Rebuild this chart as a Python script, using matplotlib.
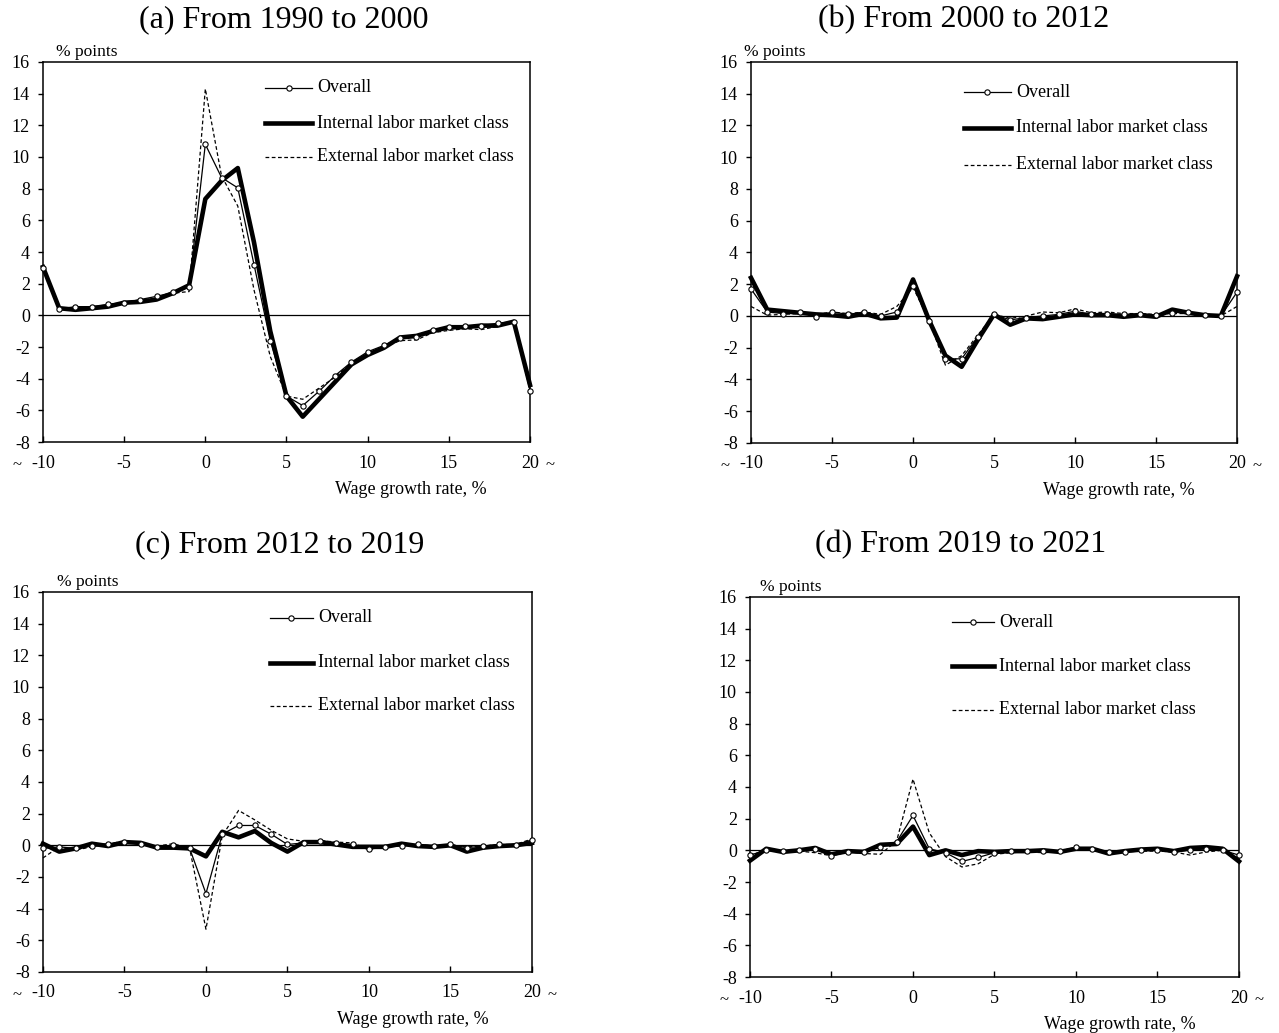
import matplotlib.pyplot as plt

plt.rcParams['font.family'] = ['Liberation Serif', 'DejaVu Serif']
plt.rcParams['axes.unicode_minus'] = False

# Wage growth rate bins, %
wage_growth = list(range(-10, 21))

# (a) From 1990 to 2000, % points
overall_a = [3.0, 0.4, 0.55, 0.55, 0.7, 0.8, 1.0, 1.2, 1.45, 1.8,
             10.8, 8.7, 8.05, 3.2, -1.6, -5.1, -5.7, -4.8, -3.8, -2.95,
             -2.3, -1.9, -1.45, -1.35, -0.9, -0.75, -0.7, -0.65, -0.5, -0.4, -4.75]
internal_a = [3.05, 0.45, 0.35, 0.45, 0.55, 0.8, 0.85, 1.0, 1.4, 1.9,
              7.35, 8.5, 9.3, 4.6, -1.0, -5.1, -6.4, -5.3, -4.2, -3.1,
              -2.5, -2.05, -1.4, -1.3, -1.0, -0.75, -0.75, -0.65, -0.65, -0.4, -4.4]
external_a = [3.0, 0.4, 0.5, 0.5, 0.6, 0.75, 1.0, 1.05, 1.4, 1.5,
              14.3, 8.8, 6.9, 1.6, -2.6, -5.1, -5.3, -4.6, -3.9, -3.0,
              -2.4, -2.0, -1.6, -1.55, -1.1, -0.95, -0.85, -0.9, -0.7, -0.45, -4.6]

# (b) From 2000 to 2012
overall_b = [1.7, 0.25, 0.15, 0.25, -0.05, 0.25, 0.1, 0.25, 0.0, 0.25,
             1.9, -0.3, -2.7, -2.7, -1.3, 0.1, -0.25, -0.1, 0.0, 0.1,
             0.3, 0.1, 0.15, 0.1, 0.15, 0.05, 0.2, 0.25, 0.05, 0.0, 1.5]
internal_b = [2.4, 0.4, 0.3, 0.2, 0.1, 0.05, -0.05, 0.15, -0.15, -0.1,
              2.3, -0.3, -2.5, -3.2, -1.5, 0.1, -0.55, -0.15, -0.2, -0.05,
              0.1, 0.05, 0.05, -0.05, 0.05, -0.05, 0.4, 0.2, 0.05, 0.0, 2.5]
external_b = [0.6, 0.05, 0.1, 0.15, 0.1, 0.25, 0.15, 0.25, 0.1, 0.6,
              1.8, -0.3, -3.1, -2.5, -1.2, 0.1, -0.15, 0.0, 0.25, 0.2,
              0.45, 0.2, 0.25, 0.15, 0.15, 0.1, 0.15, 0.15, 0.05, 0.0, 0.6]

# (c) From 2012 to 2019
overall_c = [-0.2, -0.1, -0.2, -0.05, 0.1, 0.2, 0.05, -0.1, 0.0, -0.2,
             -3.05, 0.7, 1.25, 1.25, 0.7, 0.05, 0.15, 0.3, 0.15, 0.05,
             -0.25, -0.1, -0.05, 0.05, -0.05, 0.05, -0.15, -0.05, 0.05, 0.0, 0.35]
internal_c = [0.1, -0.4, -0.2, 0.1, -0.05, 0.2, 0.15, -0.15, -0.15, -0.2,
              -0.7, 0.85, 0.5, 0.9, 0.15, -0.4, 0.2, 0.2, 0.05, -0.1,
              -0.1, -0.1, 0.1, -0.05, -0.1, 0.0, -0.4, -0.15, -0.05, 0.0, 0.15]
external_c = [-0.8, -0.1, -0.3, -0.1, 0.1, 0.25, 0.1, -0.05, 0.1, -0.2,
              -5.3, 0.6, 2.2, 1.6, 0.95, 0.4, 0.25, 0.3, 0.2, 0.15,
              -0.3, -0.05, 0.05, 0.05, -0.05, -0.05, -0.1, -0.05, 0.05, 0.05, 0.4]

# (d) From 2019 to 2021
overall_d = [-0.3, 0.0, -0.05, 0.0, 0.1, -0.35, -0.1, -0.1, 0.2, 0.55,
             2.2, 0.1, -0.15, -0.7, -0.45, -0.15, -0.05, -0.05, -0.05, -0.05,
             0.2, 0.1, -0.1, -0.1, 0.0, 0.0, -0.1, 0.0, 0.1, 0.0, -0.3]
internal_d = [-0.65, 0.1, -0.1, 0.0, 0.15, -0.25, -0.05, -0.1, 0.35, 0.4,
              1.5, -0.3, 0.0, -0.3, -0.05, -0.1, -0.05, -0.05, 0.0, -0.1,
              0.1, 0.1, -0.2, -0.05, 0.05, 0.1, -0.05, 0.15, 0.2, 0.1, -0.7]
external_d = [-0.3, 0.0, -0.05, -0.05, -0.15, -0.35, -0.1, -0.2, -0.25, 0.6,
              4.5, 1.1, -0.4, -1.05, -0.85, -0.25, -0.15, -0.1, -0.15, -0.1,
              0.1, 0.05, -0.1, -0.1, -0.05, -0.05, -0.1, -0.3, -0.1, 0.0, -0.5]

titles = ['(a) From 1990 to 2000', '(b) From 2000 to 2012',
          '(c) From 2012 to 2019', '(d) From 2019 to 2021']
series_labels = ['Overall', 'Internal labor market class', 'External labor market class']

fig = plt.figure(figsize=(12.79, 10.33), dpi=100)

# axes rectangles, title centres and key placement for each panel
layout = [
    dict(rect=[0.0336, 0.5721, 0.3808, 0.3679], title=(0.2217, 0.9811),
         key_x=0.456, key_rows=[0.932, 0.839, 0.750], key_len=0.0965, unit_x=0.027),
    dict(rect=[0.5872, 0.5712, 0.3800, 0.3688], title=(0.7537, 0.9811),
         key_x=0.438, key_rows=[0.921, 0.827, 0.730], key_len=0.0967, unit_x=-0.014),
    dict(rect=[0.0336, 0.0591, 0.3823, 0.3679], title=(0.2185, 0.4724),
         key_x=0.464, key_rows=[0.932, 0.813, 0.700], key_len=0.088, unit_x=0.028),
    dict(rect=[0.5864, 0.0542, 0.3823, 0.3679], title=(0.7510, 0.4724),
         key_x=0.413, key_rows=[0.934, 0.818, 0.703], key_len=0.087, unit_x=0.020),
]
data = [(overall_a, internal_a, external_a), (overall_b, internal_b, external_b),
        (overall_c, internal_c, external_c), (overall_d, internal_d, external_d)]

thin = dict(color='black', lw=0.9)
thick = dict(color='black', lw=3.3)
dashed = dict(color='black', lw=0.9, ls=(0, (3, 2)))
circle = dict(marker='o', ms=3.8, mfc='white', mec='black', mew=0.8)

for lay, title, (overall, internal, external) in zip(layout, titles, data):
    ax = fig.add_axes(lay['rect'])
    ax.axhline(0, color='black', lw=0.9, zorder=1)
    ax.plot(wage_growth, external, clip_on=False, zorder=2, **dashed)
    ax.plot(wage_growth, internal, clip_on=False, zorder=3, **thick)
    ax.plot(wage_growth, overall, clip_on=False, zorder=4, **thin, **circle)

    ax.set_xlim(-10, 20)
    ax.set_ylim(-8, 16)
    ax.set_xticks(range(-10, 21, 5))
    ax.set_yticks(range(-8, 17, 2))
    ax.tick_params(axis='x', direction='in', length=4, width=1, pad=9, labelsize=13)
    ax.tick_params(axis='y', direction='out', length=3.5, width=1, pad=6, labelsize=13)
    for spine in ax.spines.values():
        spine.set_linewidth(1.1)

    # open-ended bins at both ends of the axis
    tr = ax.get_xaxis_transform()
    ax.text(-11.6, -0.062, '~', transform=tr, ha='center', va='center', fontsize=12)
    ax.text(21.25, -0.062, '~', transform=tr, ha='center', va='center', fontsize=12)

    ax.text(lay['unit_x'], 1.026, '% points', transform=ax.transAxes,
            ha='left', va='center', fontsize=12.5)
    ax.text(0.756, -0.124, 'Wage growth rate, %', transform=ax.transAxes,
            ha='center', va='center', fontsize=13)
    fig.text(lay['title'][0], lay['title'][1], title, ha='center', va='center', fontsize=23)

    # key drawn in axes coordinates
    x0, hl = lay['key_x'], lay['key_len']
    styles = [dict(thin, **circle), thick, dashed]
    for y, label, style in zip(lay['key_rows'], series_labels, styles):
        st = {k: v for k, v in style.items() if k not in circle}
        ax.plot([x0, x0 + hl], [y, y], transform=ax.transAxes, **st)
        if 'marker' in style:
            ax.plot([x0 + hl / 2], [y], transform=ax.transAxes, ls='none', **circle)
        ax.text(x0 + hl + 0.01, y, label, transform=ax.transAxes,
                ha='left', va='center', fontsize=13)

fig.savefig('out.png', dpi=100)
